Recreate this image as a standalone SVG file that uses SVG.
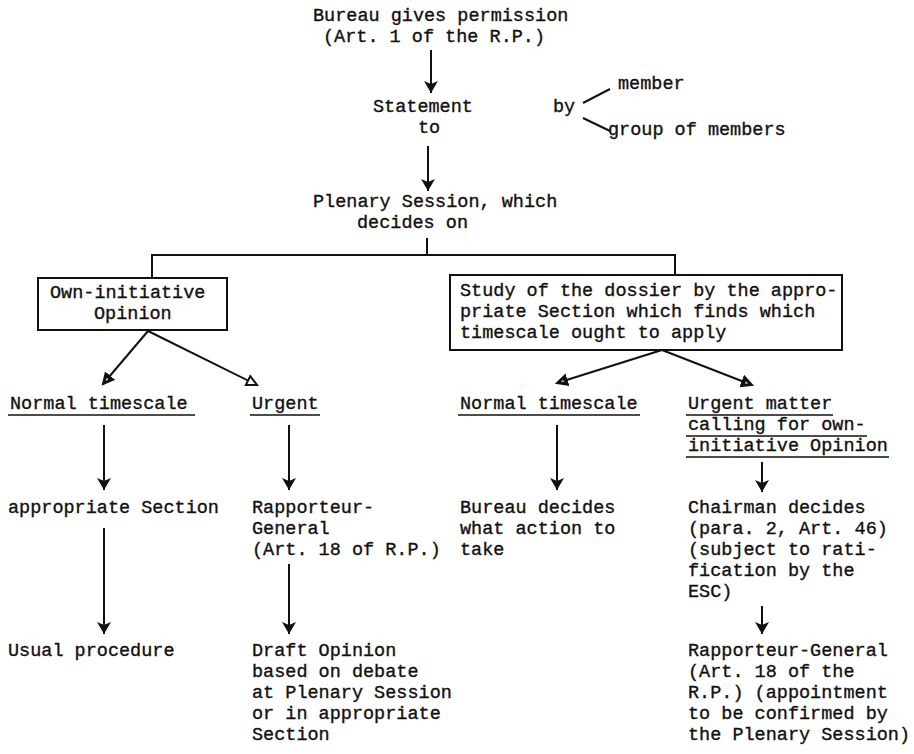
<svg xmlns="http://www.w3.org/2000/svg" width="914" height="754" viewBox="0 0 914 754">
<style>
text{font-family:"Liberation Mono","DejaVu Sans Mono",monospace;font-size:18.5px;fill:#111;stroke:#111;stroke-width:0.35}
.ln{stroke:#111;stroke-width:2;fill:none}
.ul{stroke:#111;stroke-width:1.6}
.box{fill:none;stroke:#111;stroke-width:2}
</style>
<defs>
<marker id="ah" markerUnits="userSpaceOnUse" markerWidth="13" markerHeight="16" refX="12" refY="8" orient="auto" viewBox="0 0 13 16">
<path d="M0,1 L12,8 L0,15 L3,8 Z" fill="#111"/>
</marker>
<marker id="tri" markerUnits="userSpaceOnUse" markerWidth="14" markerHeight="14" refX="11" refY="6" orient="auto" viewBox="0 0 14 12">
<path d="M1,1 L11,6 L1,11 Z" fill="#fff" stroke="#111" stroke-width="2"/>
</marker>
<marker id="trif" markerUnits="userSpaceOnUse" markerWidth="14" markerHeight="14" refX="11" refY="6" orient="auto" viewBox="0 0 14 12">
<path d="M1,1 L11,6 L1,11 Z" fill="#111" stroke="#111" stroke-width="2"/>
<path d="M4,5 L7,6 L4,7 Z" fill="#fff"/>
</marker>
</defs>
<rect width="914" height="754" fill="#fff"/>
<g id="connectors">
<line class="ln" x1="431" y1="50" x2="431" y2="93" marker-end="url(#ah)"/>
<line class="ln" x1="583" y1="103" x2="610" y2="89"/>
<line class="ln" x1="583" y1="118" x2="610" y2="131"/>
<line class="ln" x1="428" y1="146" x2="428" y2="191" marker-end="url(#ah)"/>
<polyline class="ln" points="427,238 427,255"/>
<polyline class="ln" points="152,278 152,255 675,255 675,275"/>
<line class="ln" x1="148" y1="331" x2="103" y2="384" marker-end="url(#trif)"/>
<line class="ln" x1="148" y1="331" x2="257" y2="385" marker-end="url(#tri)"/>
<line class="ln" x1="662" y1="350" x2="557" y2="383" marker-end="url(#trif)"/>
<line class="ln" x1="662" y1="350" x2="752" y2="385" marker-end="url(#trif)"/>
<line class="ln" x1="104" y1="425" x2="104" y2="490" marker-end="url(#ah)"/>
<line class="ln" x1="289" y1="425" x2="289" y2="490" marker-end="url(#ah)"/>
<line class="ln" x1="557" y1="425" x2="557" y2="490" marker-end="url(#ah)"/>
<line class="ln" x1="762" y1="462" x2="762" y2="492" marker-end="url(#ah)"/>
<line class="ln" x1="104" y1="528" x2="104" y2="634" marker-end="url(#ah)"/>
<line class="ln" x1="289" y1="564" x2="289" y2="634" marker-end="url(#ah)"/>
<line class="ln" x1="762" y1="606" x2="762" y2="634" marker-end="url(#ah)"/>
</g>
<g id="n-bureau"><text x="313" y="21">Bureau gives permission</text><text x="323" y="42">(Art. 1 of the R.P.)</text></g>
<g id="n-statement"><text x="373" y="112">Statement</text><text x="418" y="133">to</text></g>
<g id="n-by"><text x="553" y="112">by</text></g>
<g id="n-member"><text x="618" y="89">member</text></g>
<g id="n-group"><text x="608" y="135">group of members</text></g>
<g id="n-plenary"><text x="313" y="207">Plenary Session, which</text><text x="357" y="228">decides on</text></g>
<g id="n-own"><rect class="box" x="38" y="278" width="189" height="52"/><text x="50" y="298">Own-initiative</text><text x="94" y="319">Opinion</text></g>
<g id="n-study"><rect class="box" x="450" y="275" width="392" height="75"/><text x="460" y="296">Study of the dossier by the appro-</text><text x="460" y="317">priate Section which finds which</text><text x="460" y="338">timescale ought to apply</text></g>
<g id="n-normal1"><text x="10" y="409">Normal timescale</text><line class="ul" x1="8" y1="415" x2="195" y2="415"/></g>
<g id="n-urgent1"><text x="252" y="409">Urgent</text><line class="ul" x1="250" y1="415" x2="320" y2="415"/></g>
<g id="n-normal2"><text x="460" y="409">Normal timescale</text><line class="ul" x1="458" y1="415" x2="640" y2="415"/></g>
<g id="n-urgent2"><text x="688" y="409">Urgent matter</text><line class="ul" x1="686" y1="415" x2="833" y2="415"/><text x="688" y="430">calling for own-</text><line class="ul" x1="686" y1="436" x2="867" y2="436"/><text x="688" y="451">initiative Opinion</text><line class="ul" x1="686" y1="457" x2="889" y2="457"/></g>
<g id="n-section"><text x="8" y="513">appropriate Section</text></g>
<g id="n-rapp1"><text x="252" y="513">Rapporteur-</text><text x="252" y="534">General</text><text x="252" y="555">(Art. 18 of R.P.)</text></g>
<g id="n-bureau2"><text x="460" y="513">Bureau decides</text><text x="460" y="534">what action to</text><text x="460" y="555">take</text></g>
<g id="n-chair"><text x="688" y="513">Chairman decides</text><text x="688" y="534">(para. 2, Art. 46)</text><text x="688" y="555">(subject to rati-</text><text x="688" y="576">fication by the</text><text x="688" y="597">ESC)</text></g>
<g id="n-usual"><text x="8" y="656">Usual procedure</text></g>
<g id="n-draft"><text x="252" y="656">Draft Opinion</text><text x="252" y="677">based on debate</text><text x="252" y="698">at Plenary Session</text><text x="252" y="719">or in appropriate</text><text x="252" y="740">Section</text></g>
<g id="n-rapp2"><text x="688" y="656">Rapporteur-General</text><text x="688" y="677">(Art. 18 of the</text><text x="688" y="698">R.P.) (appointment</text><text x="688" y="719">to be confirmed by</text><text x="688" y="740">the Plenary Session)</text></g>
</svg>
